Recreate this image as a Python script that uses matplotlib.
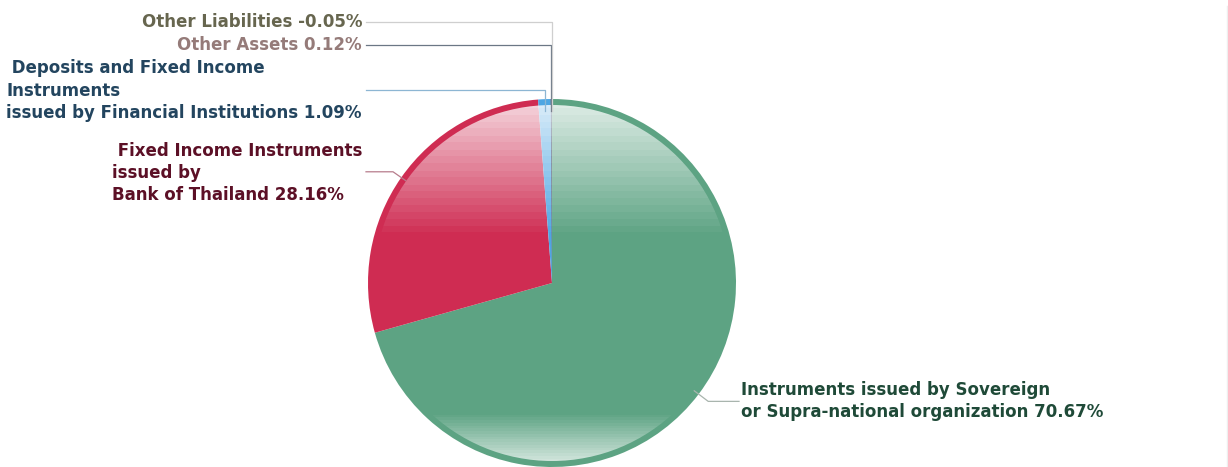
import numpy as np
import matplotlib
matplotlib.use("Agg")
import matplotlib.pyplot as plt
from matplotlib.patches import Circle
from matplotlib.lines import Line2D

# ---- data ----
categories = [
    "Instruments issued by Sovereign\nor Supra-national organization",
    " Fixed Income Instruments\nissued by\nBank of Thailand",
    " Deposits and Fixed Income\nInstruments\nissued by Financial Institutions",
    "Other Assets",
    "Other Liabilities",
]
values = [70.67, 28.16, 1.09, 0.12, -0.05]
slice_colors = ["#5da383", "#cf2c52", "#4ea6e3", "#1d3557", "#9a9a80"]
label_colors = ["#1f4a38", "#5c1026", "#23455f", "#957b79", "#67664f"]
line_colors = ["#a9b5ae", "#b77c8c", "#8db6d3", "#6b7785", "#cfcfcf"]

W, H = 1228, 467
fig = plt.figure(figsize=(W / 100, H / 100), dpi=100)
ax = fig.add_axes([0, 0, 1, 1])
ax.set_axis_off()

cx, cy, R = 552, H - 283, 184
ring = 6

pie_vals = np.clip(values, 0, None)
wedges, _ = ax.pie(pie_vals, colors=slice_colors, startangle=90, counterclock=False,
                   center=(cx, cy), radius=R, wedgeprops=dict(linewidth=0))

# gradient highlight (top and bottom), clipped to the inner circle
ny = 400
ys = np.linspace(cy + R, cy - R, ny)  # top to bottom in data coords
pix = H - ys
alpha = np.zeros(ny)
top = (pix < 236)
alpha[top] = np.clip((236 - pix[top]) / (236 - 106), 0, 1) * 0.78
bot = (pix > 414)
alpha[bot] = np.clip((pix[bot] - 414) / (461 - 414), 0, 1) * 0.72
alpha = np.round(alpha * 24) / 24
img = np.ones((ny, 2, 4))
img[:, :, 3] = alpha[:, None]
im = ax.imshow(img, extent=(cx - R, cx + R, cy - R, cy + R), origin="upper",
               aspect="auto", interpolation="nearest", zorder=3)
im.set_clip_path(Circle((cx, cy), R - ring, transform=ax.transData))

ax.set_xlim(0, W)
ax.set_ylim(0, H)
ax.set_aspect("auto")

fs = 12
ls = 1.3
fam = ["DejaVu Sans"]

label_text = [f"{c} {v:.2f}%" for c, v in zip(categories, values)]

def ang_of(w):
    return np.deg2rad((w.theta1 + w.theta2) / 2)

# Sovereign (right)
w = wedges[0]
a = ang_of(w)
p0 = (cx + 0.97 * R * np.cos(a), cy + 0.97 * R * np.sin(a))
p1 = (cx + (R + 12) * np.cos(a), cy + (R + 12) * np.sin(a))
ax.plot([p0[0], p1[0], 739], [p0[1], p1[1], p1[1]], color=line_colors[0], lw=0.9, zorder=4)
ax.text(741, p1[1] + 0.5, label_text[0], ha="left", va="center", fontsize=fs,
        fontweight="bold", color=label_colors[0], family=fam, linespacing=ls)

# Bank of Thailand (left)
w = wedges[1]
a = ang_of(w)
p0 = (cx + 0.97 * R * np.cos(a), cy + 0.97 * R * np.sin(a))
p1 = (cx + (R + 10) * np.cos(a), cy + (R + 10) * np.sin(a))
ax.plot([p0[0], p1[0], 366], [p0[1], p1[1], p1[1]], color=line_colors[1], lw=0.9, zorder=4)
ax.text(362, p1[1] - 1.5, label_text[1], ha="right", va="center", fontsize=fs,
        fontweight="bold", color=label_colors[1], family=fam, linespacing=ls,
        multialignment="left")

# small slices at top: vertical leaders
for i, ly_pix in zip([2, 3, 4], [90, 45, 22]):
    w = wedges[i]
    a = ang_of(w)
    x0 = cx + (R - 12) * np.cos(a)
    y0 = cy + (R - 12) * np.sin(a)
    ly = H - ly_pix
    ax.plot([x0, x0, 366], [y0, ly, ly], color=line_colors[i], lw=0.9, zorder=4)
    if i == 2:
        ax.text(362, ly - 0.5, label_text[i], ha="right", va="center", fontsize=fs,
                fontweight="bold", color=label_colors[i], family=fam, linespacing=ls,
                multialignment="left")
    else:
        ax.text(362, ly, label_text[i], ha="right", va="center", fontsize=fs,
                fontweight="bold", color=label_colors[i], family=fam)

fig.add_artist(Line2D([1226.5 / W, 1226.5 / W], [0, 1 - 6 / H], transform=fig.transFigure,
                      color="#eeeeee", lw=1))

fig.savefig("out.png", dpi=100, facecolor="white")
